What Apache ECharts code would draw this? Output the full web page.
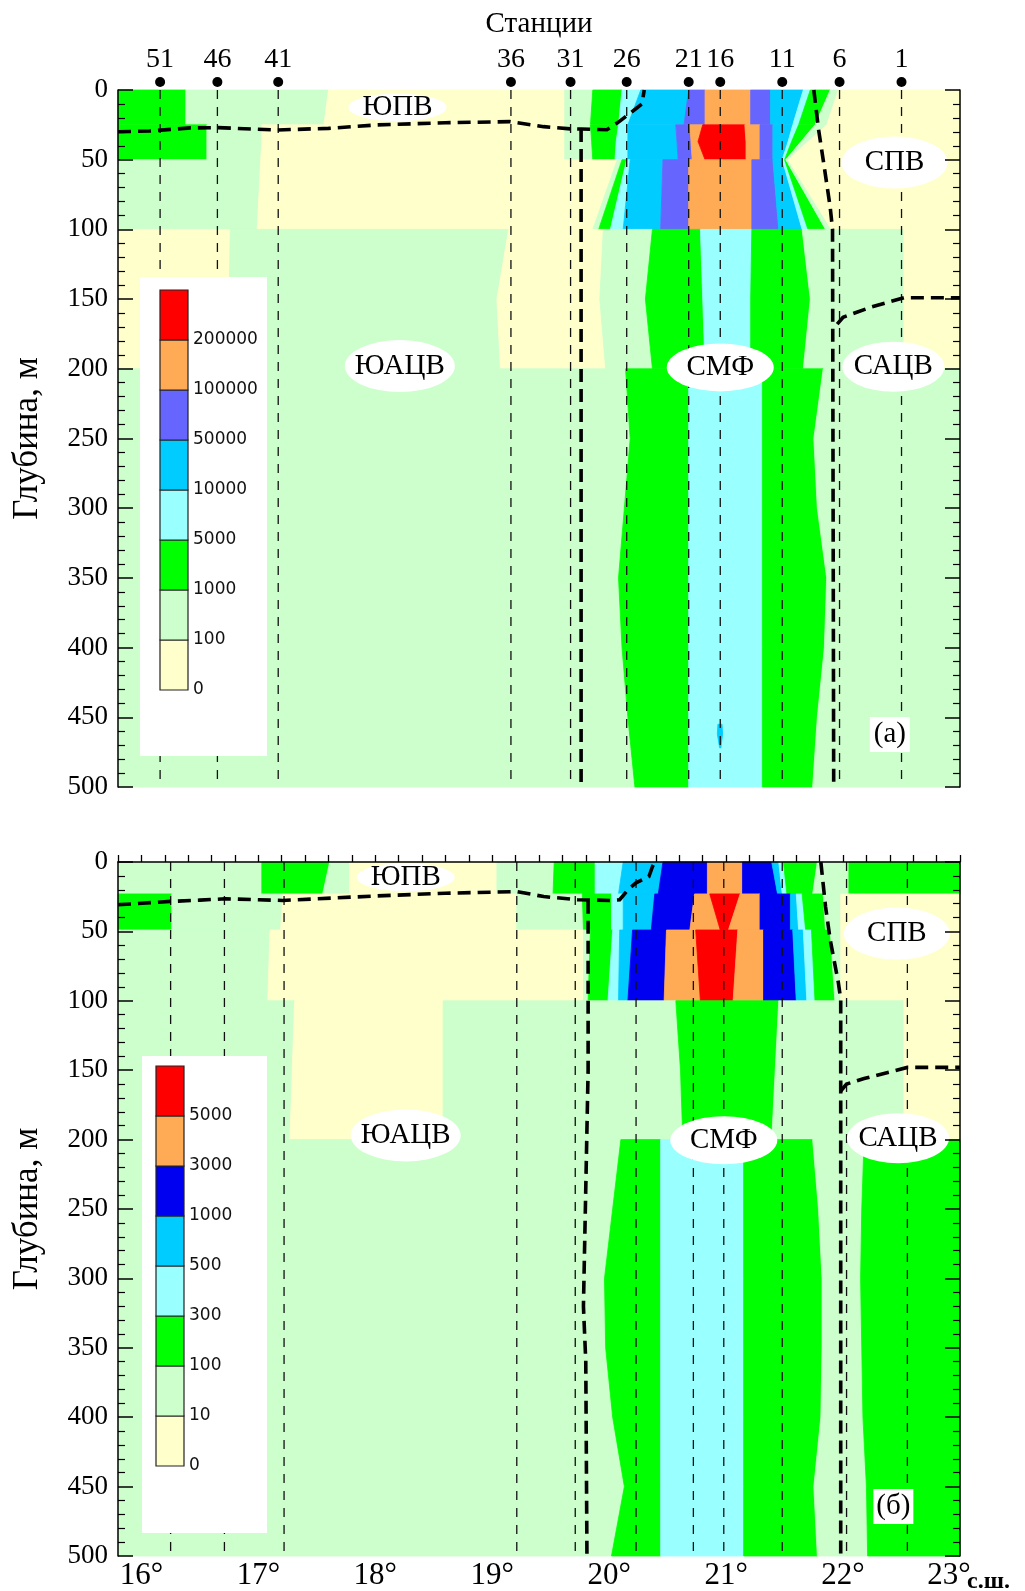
<!DOCTYPE html>
<html>
<head>
<meta charset="utf-8">
<script src="https://cdn.jsdelivr.net/npm/echarts@6/dist/echarts.min.js"></script>
<style>
  html, body { margin: 0; padding: 0; background: #ffffff; }
  #chart { width: 1025px; height: 1591px; }
</style>
</head>
<body>
<div id="chart"></div>
<script>
// Vertical section 15.8°–23° N, 0–500 m: abundance classes, stations and water-mass fronts.

const LAT_MIN = 15.8;
const LAT_MAX = 23.0;
const DEPTH_MAX = 500;

// Stations along the section (latitude, °N)
const stationNames = ['51', '46', '41', '36', '31', '26', '21', '16', '11', '6', '1'];
const stationLatA = [16.16, 16.65, 17.17, 19.16, 19.67, 20.15, 20.68, 20.95, 21.48, 21.97, 22.50];
const stationLatB = [16.25, 16.71, 17.22, 19.21, 19.71, 20.23, 20.72, 20.98, 21.48, 22.03, 22.55];

// Class limits shown in the colour scales
const legendLabelsA = ['0', '100', '1000', '5000', '10000', '50000', '100000', '200000'];
const legendLabelsB = ['0', '10', '100', '300', '500', '1000', '3000', '5000'];
const colorsA = ['#FFFFCC', '#CCFFCC', '#00FF00', '#99FFFF', '#00CCFF', '#6666FF', '#FFAA55', '#FF0000'];
const colorsB = ['#FFFFCC', '#CCFFCC', '#00FF00', '#99FFFF', '#00CCFF', '#0000F0', '#FFAA55', '#FF0000'];

// Depth layers: class of each strip (west to east) and the latitude of each
// boundary between neighbouring strips at the layer's depth levels.
const a_0_25 = {
  depth: [0, 25],
  cls: [2, 1, 0, 1, 2, 3, 4, 5, 6, 5, 4, 3, 2, 1, 0],
  edge: [
    [16.38, 16.38], [17.60, 17.56], [19.62, 19.62], [19.86, 19.84],
    [20.11, 20.08], [20.27, 20.16], [20.68, 20.64], [20.82, 20.82],
    [21.21, 21.21], [21.38, 21.38], [21.66, 21.57], [21.72, 21.62],
    [21.89, 21.76], [21.96, 21.86]
  ]
};
const a_25_50 = {
  depth: [25, 37, 50],
  cls: [2, 1, 0, 1, 2, 3, 4, 5, 6, 7, 6, 5, 4, 3, 2, 1, 0],
  edge: [
    [16.56, 16.56, 16.56], [17.03, 17.03, 17.02], [19.62, 19.62, 19.62],
    [19.84, 19.85, 19.86], [20.08, 20.06, 20.05], [20.16, 20.16, 20.16],
    [20.57, 20.58, 20.59], [20.69, 20.70, 20.71], [20.80, 20.76, 20.82],
    [21.16, 21.17, 21.17], [21.29, 21.29, 21.29], [21.40, 21.40, 21.40],
    [21.57, 21.53, 21.48], [21.62, 21.56, 21.50], [21.76, 21.64, 21.51],
    [21.86, 21.70, 21.53]
  ]
};
const a_50_100 = {
  depth: [50, 100],
  cls: [1, 0, 1, 2, 3, 4, 5, 6, 5, 4, 3, 2, 1, 0],
  edge: [
    [17.02, 16.99], [20.07, 19.86], [20.11, 19.91], [20.15, 20.01],
    [20.18, 20.12], [20.46, 20.44], [20.68, 20.68], [21.22, 21.22],
    [21.40, 21.45], [21.48, 21.65], [21.50, 21.70], [21.51, 21.85],
    [21.53, 21.90]
  ]
};
const a_100_200 = {
  depth: [100, 150, 200],
  cls: [0, 1, 0, 1, 2, 3, 2, 1, 0],
  edge: [
    [16.76, 16.75, 16.73], [19.14, 19.04, 19.07], [19.95, 19.92, 19.97],
    [20.37, 20.31, 20.37], [20.78, 20.80, 20.82], [21.22, 21.21, 21.21],
    [21.65, 21.72, 21.66], [22.52, 22.52, 22.52]
  ]
};
const a_200_500 = {
  depth: [200, 250, 300, 350, 400, 450, 500],
  cls: [1, 2, 3, 2, 1],
  edge: [
    [20.14, 20.18, 20.13, 20.08, 20.11, 20.16, 20.22],
    [20.68, 20.68, 20.68, 20.68, 20.68, 20.68, 20.68],
    [21.31, 21.31, 21.31, 21.31, 21.31, 21.31, 21.31],
    [21.83, 21.75, 21.78, 21.86, 21.84, 21.78, 21.74]
  ]
};
const a_spot = {
  depth: [455, 462, 472],
  cls: [null, 4, null],
  edge: [[20.93, 20.925, 20.945], [20.965, 20.97, 20.955]]
};

const b_0_23 = {
  depth: [0, 23],
  cls: [1, 2, 1, 0, 1, 2, 3, 4, 5, 6, 5, 4, 3, 2, 1, 2],
  edge: [
    [17.03, 17.03], [17.61, 17.55], [17.78, 17.78], [19.04, 19.04],
    [19.53, 19.52], [19.88, 19.88], [20.12, 20.08], [20.46, 20.42],
    [20.84, 20.84], [21.14, 21.14], [21.39, 21.44], [21.45, 21.48],
    [21.49, 21.52], [21.78, 21.74], [22.05, 22.05]
  ]
};
const b_23_49 = {
  depth: [23, 49],
  cls: [2, 1, 0, 1, 2, 3, 4, 5, 6, 7, 6, 5, 4, 3, 2, 1, 0],
  edge: [
    [16.26, 16.26], [17.21, 17.19], [19.21, 19.21], [19.77, 19.78],
    [20.02, 20.02], [20.12, 20.12], [20.39, 20.36], [20.73, 20.69],
    [20.86, 20.95], [21.12, 21.02], [21.29, 21.29], [21.55, 21.55],
    [21.60, 21.62], [21.65, 21.68], [21.83, 21.85], [21.98, 21.98]
  ]
};
const b_49_100 = {
  depth: [49, 100],
  cls: [1, 0, 1, 2, 3, 4, 5, 6, 7, 6, 5, 4, 3, 2, 1, 0],
  edge: [
    [17.10, 17.08], [19.78, 19.78], [19.84, 19.82], [20.03, 19.99],
    [20.09, 20.08], [20.20, 20.16], [20.49, 20.47], [20.74, 20.78],
    [21.10, 21.06], [21.32, 21.32], [21.57, 21.60], [21.66, 21.69],
    [21.73, 21.76], [21.89, 21.93], [21.98, 21.98]
  ]
};
const b_100_200 = {
  depth: [100, 150, 200],
  cls: [1, 0, 1, 2, 1, 0],
  edge: [
    [17.31, 17.29, 17.27], [18.58, 18.58, 18.58], [20.57, 20.61, 20.63],
    [21.45, 21.42, 21.39], [22.52, 22.52, 22.52]
  ]
};
const b_200_500 = {
  depth: [200, 250, 300, 350, 400, 450, 500],
  cls: [1, 2, 3, 2, 1, 2],
  edge: [
    [20.10, 20.03, 19.96, 19.97, 20.03, 20.13, 20.02],
    [20.44, 20.44, 20.44, 20.44, 20.44, 20.44, 20.44],
    [21.15, 21.15, 21.15, 21.15, 21.15, 21.15, 21.15],
    [21.74, 21.79, 21.82, 21.82, 21.81, 21.75, 21.78],
    [22.18, 22.16, 22.15, 22.16, 22.17, 22.20, 22.21]
  ]
};

// Water-mass boundaries (latitude, depth)
const frontA_top = [[15.8, 30], [16.07, 29.4], [16.42, 27.2], [16.65, 27], [17.16, 28.7], [17.6, 27.5],
  [18.02, 25], [18.6, 23.5], [19.15, 22.7], [19.44, 26.3], [19.67, 27.9], [19.76, 28], [19.98, 28.5],
  [20.08, 23], [20.22, 14], [20.28, 10], [20.30, 0]];
const frontA_west = [[19.76, 28], [19.76, 500]];
const frontA_east = [[21.75, 0], [21.79, 28], [21.83, 50], [21.89, 84], [21.91, 100], [21.92, 500]];
const frontA_branch = [[21.95, 168], [22.0, 163], [22.23, 156], [22.52, 149], [23.0, 149]];

const frontB_top = [[15.8, 30.8], [16.25, 28.4], [16.5, 27.5], [16.72, 26.5], [17.21, 27.7], [18.02, 24.4],
  [18.6, 22.5], [19.21, 21.3], [19.44, 24.9], [19.73, 27.2], [20.01, 27.7], [20.09, 27.2], [20.16, 20],
  [20.23, 15], [20.34, 10.5], [20.37, 3.4], [20.39, 0]];
const frontB_west = [[19.82, 28], [19.82, 150], [19.78, 320], [19.80, 360], [19.81, 500]];
const frontB_east = [[21.81, 0], [21.85, 32], [21.89, 56], [21.96, 87], [21.98, 99], [21.98, 500]];
const frontB_branch = [[21.98, 165], [22.03, 160], [22.18, 156], [22.55, 148], [23.0, 148]];

// Water-mass names (name, latitude, depth) and panel tags
const massA = [['ЮПВ', 18.19, 12.5], ['СПВ', 22.44, 52], ['ЮАЦВ', 18.21, 198], ['СМФ', 20.95, 199], ['САЦВ', 22.43, 198.5]];
const massB = [['ЮПВ', 18.26, 11], ['СПВ', 22.46, 51.6], ['ЮАЦВ', 18.26, 197], ['СМФ', 20.98, 200.5], ['САЦВ', 22.47, 199]];
const tagA = ['(а)', 22.40, 462];
const tagB = ['(б)', 22.43, 464];

// ---------- styling ----------
const SERIF = "'Liberation Serif', 'Times New Roman', serif";
const SANS = "'DejaVu Sans', sans-serif";
const ellipseSize = { 'ЮПВ': [98, 28], 'СПВ': [106, 52], 'ЮАЦВ': [110, 52], 'СМФ': [107, 48], 'САЦВ': [102, 50] };

function buildStrips(bands) {
  const out = [];
  bands.forEach(b => {
    const n = b.cls.length;
    for (let i = 0; i < n; i++) {
      if (b.cls[i] === null) continue;
      const left = i === 0 ? b.depth.map(() => LAT_MIN) : b.edge[i - 1];
      const right = i === n - 1 ? b.depth.map(() => LAT_MAX) : b.edge[i];
      const pts = [];
      for (let k = 0; k < b.depth.length; k++) pts.push([left[k], b.depth[k]]);
      for (let k = b.depth.length - 1; k >= 0; k--) pts.push([right[k], b.depth[k]]);
      out.push({ cls: b.cls[i], pts });
    }
  });
  return out;
}

function stripSeries(strips, colors, gi) {
  return {
    type: 'custom', xAxisIndex: gi, yAxisIndex: gi * 2, z: 2, silent: true,
    data: strips.map((s, i) => [i]),
    renderItem: (params, api) => {
      const s = strips[params.dataIndex];
      const c = colors[s.cls];
      return {
        type: 'polygon',
        shape: { points: s.pts.map(p => api.coord(p)) },
        style: { fill: c, stroke: c, lineWidth: 0.8 }
      };
    }
  };
}

function stationSeries(lats, names, gi) {
  return {
    type: 'custom', xAxisIndex: gi, yAxisIndex: gi * 2, z: 3, silent: true,
    data: lats.map(v => [v, 0]),
    renderItem: (params, api) => {
      const lat = api.value(0);
      const top = api.coord([lat, 0]);
      const bot = api.coord([lat, DEPTH_MAX]);
      const children = [{
        type: 'line',
        shape: { x1: top[0], y1: top[1], x2: bot[0], y2: bot[1] },
        style: { stroke: '#111', lineWidth: 1.3, lineDash: [9, 8] }
      }];
      if (names) {
        children.push({ type: 'circle', shape: { cx: top[0], cy: top[1] - 8, r: 5 }, style: { fill: '#000' } });
        children.push({
          type: 'text', x: top[0], y: top[1] - 30,
          style: { text: names[params.dataIndex], font: '28px ' + SERIF, fill: '#000',
                   align: 'center', verticalAlign: 'middle', textAlign: 'center', textVerticalAlign: 'middle' }
        });
      }
      return { type: 'group', children };
    }
  };
}

function frontSeries(lines, gi) {
  return {
    type: 'custom', xAxisIndex: gi, yAxisIndex: gi * 2, z: 4, silent: true,
    data: lines.map((l, i) => [i]),
    renderItem: (params, api) => ({
      type: 'polyline',
      shape: { points: lines[params.dataIndex].map(p => api.coord(p)) },
      style: { stroke: '#000', lineWidth: 3.6, lineDash: [13, 7], fill: null }
    })
  };
}

function labelSeries(masses, tag, gi) {
  return {
    type: 'custom', xAxisIndex: gi, yAxisIndex: gi * 2, z: 5, silent: true,
    data: masses.map(m => [m[1], m[2]]).concat([[tag[1], tag[2]]]),
    renderItem: (params, api) => {
      const p = api.coord([api.value(0), api.value(1)]);
      const isTag = params.dataIndex === masses.length;
      const text = isTag ? tag[0] : masses[params.dataIndex][0];
      const textEl = {
        type: 'text', x: p[0], y: p[1],
        style: { text, font: '29px ' + SERIF, fill: '#000',
                 align: 'center', verticalAlign: 'middle', textAlign: 'center', textVerticalAlign: 'middle' }
      };
      if (isTag) {
        return { type: 'group', children: [
          { type: 'rect', shape: { x: p[0] - 20, y: p[1] - 17, width: 40, height: 35 }, style: { fill: '#fff' } },
          textEl
        ] };
      }
      const sz = ellipseSize[text];
      return { type: 'group', children: [
        { type: 'circle', x: p[0], y: p[1], scaleX: sz[0] / sz[1], scaleY: 1,
          shape: { cx: 0, cy: 0, r: sz[1] / 2 }, style: { fill: '#fff' } },
        textEl
      ] };
    }
  };
}

// Colour-scale box: white panel, stacked class cells and the limit labels
function legendElements(box, bar, colors, labels) {
  const Z = 100;
  const els = [{ type: 'rect', z: Z, shape: { x: box.x, y: box.y, width: box.w, height: box.h }, style: { fill: '#fff' } }];
  const n = colors.length;
  for (let k = 0; k < n; k++) {
    els.push({
      type: 'rect', z: Z + 1,
      shape: { x: bar.x, y: bar.y + (n - 1 - k) * bar.cell, width: bar.w, height: bar.cell },
      style: { fill: colors[k], stroke: '#222', lineWidth: 1.2 }
    });
  }
  labels.forEach((t, i) => {
    els.push({
      type: 'text', z: Z + 2, x: bar.x + bar.w + 5, y: bar.y + (n - i) * bar.cell,
      style: { text: t, font: '17px ' + SANS, fill: '#111',
               align: 'left', verticalAlign: 'middle', textAlign: 'left', textVerticalAlign: 'middle' }
    });
  });
  return els;
}

function depthAxis(gi, pos) {
  const left = pos === 'left';
  return {
    gridIndex: gi, type: 'value', inverse: true, min: 0, max: DEPTH_MAX, interval: 50,
    position: pos, z: 10,
    name: left ? 'Глубина, м' : '', nameLocation: 'middle', nameGap: 73, nameRotate: 90,
    nameTextStyle: { fontFamily: SERIF, fontSize: 35, color: '#000' },
    axisLine: { show: true, lineStyle: { color: '#000', width: 1.5 } },
    axisTick: { show: true, inside: true, length: 15, lineStyle: { color: '#000', width: 1.5 } },
    minorTick: { show: true, splitNumber: 5, length: 7, lineStyle: { color: '#000', width: 1.2 } },
    axisLabel: { show: left, fontFamily: SERIF, fontSize: 27, color: '#000', margin: 10 },
    splitLine: { show: false }
  };
}

const stripsA = buildStrips([a_0_25, a_25_50, a_50_100, a_100_200, a_200_500, a_spot]);
const stripsB = buildStrips([b_0_23, b_23_49, b_49_100, b_100_200, b_200_500]);

const chart = echarts.init(document.getElementById('chart'), null, { renderer: 'canvas' });
chart.setOption({
  backgroundColor: '#ffffff',
  animation: false,
  grid: [
    { left: 118, top: 90, width: 842, height: 697 },
    { left: 118, top: 862, width: 842, height: 698 }
  ],
  xAxis: [
    { gridIndex: 0, type: 'value', min: LAT_MIN, max: LAT_MAX, show: false },
    {
      gridIndex: 1, type: 'value', min: LAT_MIN, max: LAT_MAX, interval: 0.2, z: 10,
      axisLine: { show: true, lineStyle: { color: '#000', width: 1.5 } },
      axisTick: { show: true, inside: true, length: 7, lineStyle: { color: '#000', width: 1.3 } },
      axisLabel: {
        fontFamily: SERIF, fontSize: 31, color: '#000', margin: 4,
        formatter: v => {
          if (Math.abs(v - Math.round(v)) > 1e-6) return '';
          const d = Math.round(v);
          // the last label is nudged left to leave room for the "с.ш." suffix
          return d === LAT_MAX ? '{last|' + d + '°}' : d + '°';
        },
        rich: { last: { fontFamily: SERIF, fontSize: 31, color: '#000', padding: [0, 22, 0, 0] } }
      },
      splitLine: { show: false }
    }
  ],
  yAxis: [depthAxis(0, 'left'), depthAxis(0, 'right'), depthAxis(1, 'left'), depthAxis(1, 'right')],
  series: [
    stripSeries(stripsA, colorsA, 0),
    stationSeries(stationLatA, stationNames, 0),
    frontSeries([frontA_top, frontA_west, frontA_east, frontA_branch], 0),
    labelSeries(massA, tagA, 0),
    stripSeries(stripsB, colorsB, 1),
    stationSeries(stationLatB, null, 1),
    frontSeries([frontB_top, frontB_west, frontB_east, frontB_branch], 1),
    labelSeries(massB, tagB, 1)
  ],
  graphic: [
    { type: 'text', x: 539, y: 24, z: 100,
      style: { text: 'Станции', font: '29px ' + SERIF, fill: '#000',
               align: 'center', verticalAlign: 'middle', textAlign: 'center', textVerticalAlign: 'middle' } },
    { type: 'text', x: 967, y: 1582, z: 100,
      style: { text: 'с.ш.', font: 'bold 24px ' + SERIF, fill: '#000',
               align: 'left', verticalAlign: 'middle', textAlign: 'left', textVerticalAlign: 'middle' } }
  ]
    .concat(legendElements({ x: 140, y: 277, w: 127, h: 479 }, { x: 160, y: 290, w: 28, cell: 50 }, colorsA, legendLabelsA))
    .concat(legendElements({ x: 142, y: 1056, w: 125, h: 477 }, { x: 156, y: 1066, w: 28, cell: 50 }, colorsB, legendLabelsB))
});
</script>
</body>
</html>
